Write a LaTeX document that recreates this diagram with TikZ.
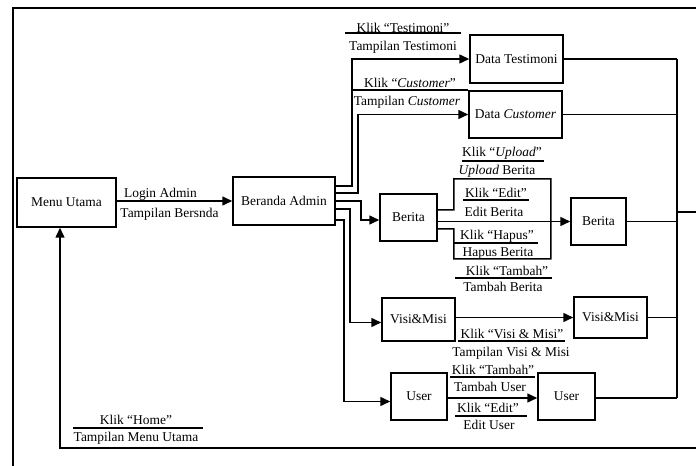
\documentclass[tikz,border=0pt]{standalone}
\usepackage{fontspec}
\setmainfont{Liberation Serif}
\usetikzlibrary{arrows.meta}
\tikzset{
  box/.style={draw, line width=1.5bp, inner sep=0pt, align=center, font=\fontsize{13.5}{15}\selectfont},
  lbl/.style={inner sep=0pt, font=\fontsize{13.5}{15}\selectfont},
  ln/.style={line width=1.5bp},
  conn/.style={line width=1.5bp, -{Triangle[length=10bp,width=9bp]}},
  uline/.style={line width=1.4bp},
}
\begin{document}
\begin{tikzpicture}[x=1bp,y=-1bp]
\useasboundingbox (0,0) rectangle (696,466);
\clip (0,0) rectangle (696,466);
% outer frame
\draw[ln] (13,480) -- (13,8) -- (720,8);
% boxes
\node[box, minimum width=99bp, minimum height=49bp] (menu) at (66.5,202.5) {Menu Utama};
\node[box, minimum width=102bp, minimum height=48bp] (beranda) at (284,201) {Beranda Admin};
\node[box, minimum width=93bp, minimum height=48bp] (testi) at (516.5,59) {Data Testimoni};
\node[box, minimum width=93bp, minimum height=47bp] (cust) at (515.5,114.5) {Data \textit{Customer}};
\node[box, minimum width=57bp, minimum height=47bp] (berita1) at (408.5,217.5) {Berita};
\node[box, minimum width=55bp, minimum height=47bp] (berita2) at (598.5,221.5) {Berita};
\node[box, minimum width=73bp, minimum height=43bp] (visi1) at (418.5,319.5) {Visi\&Misi};
\node[box, minimum width=73bp, minimum height=41bp] (visi2) at (610.5,317.5) {Visi\&Misi};
\node[box, minimum width=56bp, minimum height=47bp] (user1) at (419,396.5) {User};
\node[box, minimum width=57bp, minimum height=47bp] (user2) at (566.5,396.5) {User};
% main connectors
\draw[conn] (menu.east |- beranda.west) -- (beranda.west);
\draw[conn] ([yshift=15bp]beranda.east) -- ++(16,0) |- (testi.west);
\draw[conn] ([yshift=8bp]beranda.east) -- ++(22,0) |- (cust.west);
\draw[conn] (beranda.east) -- ++(25,0) |- ([yshift=-2.5bp]berita1.west);
\draw[conn] ([yshift=-8bp]beranda.east) -- ++(14,0) |- ([yshift=-3bp]visi1.west);
\draw[conn] ([yshift=-19bp]beranda.east) -- ++(8,0) |- ([yshift=-5bp]user1.west);
\draw[conn] (berita1.east |- berita2.west) -- (berita2.west);
\draw[ln] ([yshift=7.5bp]berita1.east) -- ++(16,0) -- ++(0,-31) -- ++(97,0) -- ++(0,80) -- ++(-97,0) -- ++(0,-30) -- ([yshift=-11.5bp]berita1.east);
\draw[conn] (visi1.east |- visi2.west) -- (visi2.west);
\draw[conn] ([yshift=-1.5bp]user1.east) -- ([yshift=-1.5bp]user2.west);
% bus on the right
\coordinate (busout) at (677,212);
\coordinate (retcorner) at (60,448);
\draw[ln] (testi.east) -- (testi.east -| busout);
\draw[ln] (cust.east) -- (cust.east -| busout);
\draw[ln] (berita2.east) -- (berita2.east -| busout);
\draw[ln] (visi2.east) -- (visi2.east -| busout);
\draw[ln] ([yshift=-1.5bp]user2.east) -- ([yshift=-1.5bp]user2.east -| busout);
\draw[ln] (testi.east -| busout) -- ([yshift=-1.5bp]user2.east -| busout);
\draw[conn] (busout) -- ++(40,0) |- (retcorner) -- (retcorner |- menu.south);
% labels
\node[lbl] (l1) at (160.5,194) {Login Admin};
\node[lbl] (l2) at (169.5,214) {Tampilan Bersnda};
\node[lbl] (t1) at (403,28) {Klik “Testimoni”};
\draw[uline] (345,33) -- (461,33);
\node[lbl] (t2) at (403,47) {Tampilan Testimoni};
\node[lbl] (c1) at (410,83) {Klik “\textit{Customer}”};
\draw[uline] (353,90) -- (468,90);
\node[lbl] (c2) at (407,102) {Tampilan \textit{Customer}};
\node[lbl] (u1) at (502,153) {Klik “\textit{Upload}”};
\draw[uline] (462,161) -- (544,161);
\node[lbl] (u2) at (497,171) {\textit{Upload} Berita};
\node[lbl] (e1) at (496,193) {Klik “Edit”};
\draw[uline] (463,200) -- (529,200);
\node[lbl] (e2) at (494,212) {Edit Berita};
\node[lbl] (h1) at (497,236) {Klik “Hapus”};
\draw[uline] (454,243) -- (538,243);
\node[lbl] (h2) at (498,253) {Hapus Berita};
\node[lbl] (b1) at (507,271) {Klik “Tambah”};
\draw[uline] (455,278) -- (552,278);
\node[lbl] (b2) at (503,287) {Tambah Berita};
\node[lbl] (v1) at (512,334) {Klik “Visi \& Misi”};
\draw[uline] (458,341) -- (565,341);
\node[lbl] (v2) at (511,353) {Tampilan Visi \& Misi};
\node[lbl] (s1) at (493,370) {Klik “Tambah”};
\draw[uline] (450,377) -- (535,377);
\node[lbl] (s2) at (490,387) {Tambah User};
\node[lbl] (s3) at (488,408) {Klik “Edit”};
\draw[uline] (455,416) -- (527,416);
\node[lbl] (s4) at (489,425) {Edit User};
\node[lbl] (m1) at (136,420) {Klik “Home”};
\draw[uline] (73,428) -- (203,428);
\node[lbl] (m2) at (136,438) {Tampilan Menu Utama};
\end{tikzpicture}
\end{document}
